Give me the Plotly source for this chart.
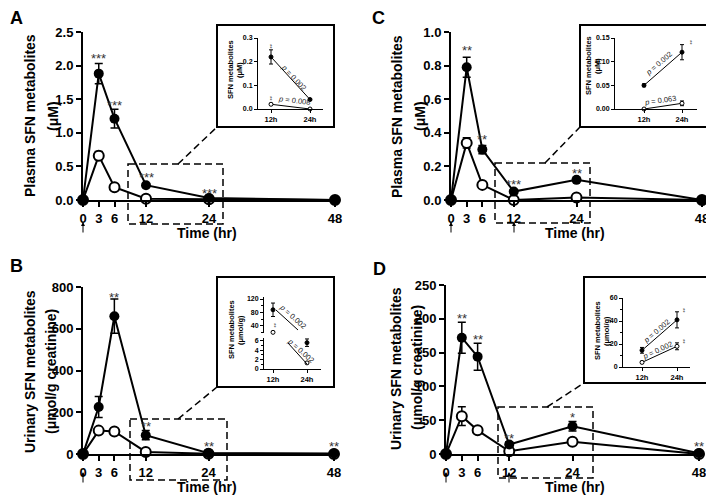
import plotly.graph_objects as go

W, H = 714, 500
OFF = 8  # the page body margin shifts the figure by 8 px
FONT = "Liberation Sans, Arial, sans-serif"

times = [0, 3, 6, 12, 24, 48]

# A - plasma SFN metabolites (uM)
a_filled = [0, 1.88, 1.21, 0.22, 0.03, 0.0]
a_filled_err = [0, 0.15, 0.14, 0.02, 0.01, 0]
a_open = [0, 0.66, 0.19, 0.02, 0.01, 0.0]
a_open_err = [0, 0.06, 0.02, 0.005, 0.003, 0]
a_star_x = [3, 6, 12, 24]
a_star_y = [2.10, 1.40, 0.34, 0.10]
a_stars = ["***", "***", "***", "***"]

# C - plasma SFN metabolites (uM)
c_filled = [0, 0.79, 0.30, 0.05, 0.12, 0.0]
c_filled_err = [0, 0.06, 0.025, 0.005, 0.006, 0]
c_open = [0, 0.34, 0.09, 0.0, 0.015, 0.0]
c_open_err = [0, 0.03, 0.008, 0, 0.003, 0]
c_star_x = [3, 6, 12, 24]
c_star_y = [0.89, 0.36, 0.09, 0.16]
c_stars = ["**", "**", "***", "**"]

# B - urinary SFN metabolites (umol/g creatinine)
b_filled = [0, 225, 660, 90, 4, 2]
b_filled_err = [0, 50, 82, 22, 1, 0.5]
b_open = [0, 112, 108, 10, 1, 0]
b_open_err = [0, 10, 8, 2, 0.3, 0]
b_star_x = [6, 12, 24, 48]
b_star_y = [750, 130, 35, 35]
b_stars = ["**", "**", "**", "**"]

# D - urinary SFN metabolites (umol/g creatinine)
d_filled = [0, 172, 144, 14, 41, 1]
d_filled_err = [0, 23, 20, 4, 7, 0.5]
d_open = [0, 56, 35, 4, 18, 0]
d_open_err = [0, 14, 3, 1, 2, 0]
d_star_x = [3, 6, 12, 24, 48]
d_star_y = [200, 170, 23, 54, 11]
d_stars = ["**", "**", "**", "*", "**"]

# insets: 12h vs 24h
inset_x = [12, 24]
inset_labels = ["12h", "24h"]
ia_filled = [0.22, 0.04]
ia_filled_err = [0.03, 0.004]
ia_open = [0.02, 0.0]
ia_open_err = [0.004, 0.002]
ia_p = ["0.002", "0.008"]

ic_filled = [0.05, 0.12]
ic_filled_err = [0.003, 0.016]
ic_open = [0.0, 0.012]
ic_open_err = [0.001, 0.005]
ic_p = ["0.002", "0.063"]

ib_filled = [88, 5.6]
ib_filled_err = [20, 0.8]
ib_open = [21, 1.3]
ib_open_err = [3, 0.2]
ib_p = ["0.002", "0.002"]

id_filled = [14.5, 41]
id_filled_err = [2.5, 7]
id_open = [4, 18]
id_open_err = [1, 3]
id_p = ["0.002", "0.002"]


def px(x):
    return (x - OFF) / W


def py(y):
    return 1 - (y - OFF) / H


def xdom(a, b):
    return [px(a), px(b)]


def ydom(top, bot):
    return [py(bot), py(top)]


def axis_style(size, lw, ticklen):
    return dict(showline=True, linecolor="black", linewidth=lw, ticks="outside",
                ticklen=ticklen, tickwidth=lw, tickcolor="black", showgrid=False,
                zeroline=False, fixedrange=True, automargin=False,
                tickfont=dict(family=FONT, size=size, color="black", weight="bold"))


def main_x(a0, p48, a1, anchor):
    s = (p48 - a0) / 48
    return dict(domain=xdom(a0, a1), range=[0, (a1 - a0) / s], anchor=anchor,
                tickvals=times, **axis_style(13, 2, 5))


def main_y(top, bot, ymax, ticks, fmt, anchor):
    return dict(domain=ydom(top, bot), range=[0, ymax], anchor=anchor,
                tickvals=ticks, tickformat=fmt, **axis_style(13, 2, 5))


def small_x(a0, p12, p24, a1, anchor):
    s = (p24 - p12) / 12
    return dict(domain=xdom(a0, a1), range=[12 - (p12 - a0) / s, 24 + (a1 - p24) / s],
                anchor=anchor, tickvals=inset_x, ticktext=inset_labels,
                **axis_style(7.5, 1, 3))


def small_y(top, bot, rng, ticks, fmt, anchor, minor=None):
    d = dict(domain=ydom(top, bot), range=rng, anchor=anchor, tickvals=ticks,
             tickformat=fmt, **axis_style(7, 1, 3))
    if minor:
        d["minor"] = dict(dtick=minor, ticks="outside", ticklen=2, tickwidth=1,
                          tickcolor="black")
    return d


fig = go.Figure()


def main_panel(xa, ya, filled, ferr, opn, oerr, sx, sy, st):
    fig.add_trace(go.Scatter(
        x=times, y=opn, mode="lines+markers", xaxis=xa, yaxis=ya, cliponaxis=False,
        error_y=dict(type="data", array=oerr, color="black", thickness=1.5, width=4),
        line=dict(color="black", width=2),
        marker=dict(symbol="circle", size=10, color="white", line=dict(color="black", width=2))))
    fig.add_trace(go.Scatter(
        x=times, y=filled, mode="lines+markers", xaxis=xa, yaxis=ya, cliponaxis=False,
        error_y=dict(type="data", array=ferr, color="black", thickness=1.5, width=4),
        line=dict(color="black", width=2),
        marker=dict(symbol="circle", size=10, color="black")))
    for x, y, t in zip(sx, sy, st):
        fig.add_annotation(x=x, y=y, xref=xa, yref=ya, text=t, showarrow=False,
                           xanchor="center", yanchor="middle",
                           font=dict(family=FONT, size=13, color="#333"))


def inset_trace(xa, ya, xs, ys, errs, filled, lines=True):
    fig.add_trace(go.Scatter(
        x=xs, y=ys, mode="lines+markers" if lines else "markers", xaxis=xa, yaxis=ya,
        cliponaxis=False,
        error_y=dict(type="data", array=errs, color="black", thickness=1, width=2),
        line=dict(color="black", width=1),
        marker=dict(symbol="circle", size=4, color="black" if filled else "white",
                    line=dict(color="black", width=1))))


main_panel("x", "y", a_filled, a_filled_err, a_open, a_open_err, a_star_x, a_star_y, a_stars)
main_panel("x2", "y2", c_filled, c_filled_err, c_open, c_open_err, c_star_x, c_star_y, c_stars)
main_panel("x3", "y3", b_filled, b_filled_err, b_open, b_open_err, b_star_x, b_star_y, b_stars)
main_panel("x4", "y4", d_filled, d_filled_err, d_open, d_open_err, d_star_x, d_star_y, d_stars)

inset_trace("x5", "y5", inset_x, ia_open, ia_open_err, False)
inset_trace("x5", "y5", inset_x, ia_filled, ia_filled_err, True)
inset_trace("x6", "y6", inset_x, ic_open, ic_open_err, False)
inset_trace("x6", "y6", inset_x, ic_filled, ic_filled_err, True)
# broken axis in B inset: 12h on the upper part, 24h on the lower part
inset_trace("x7", "y7", inset_x[:1], ib_filled[:1], ib_filled_err[:1], True, False)
inset_trace("x7", "y7", inset_x[:1], ib_open[:1], ib_open_err[:1], False, False)
inset_trace("x7", "y9", inset_x[1:], ib_filled[1:], ib_filled_err[1:], True, False)
inset_trace("x7", "y9", inset_x[1:], ib_open[1:], ib_open_err[1:], False, False)
inset_trace("x8", "y8", inset_x, id_open, id_open_err, False)
inset_trace("x8", "y8", inset_x, id_filled, id_filled_err, True)

fig.update_layout(
    width=W, height=H, margin=dict(l=0, r=0, t=0, b=0, autoexpand=False), showlegend=False,
    paper_bgcolor="white", plot_bgcolor="rgba(0,0,0,0)",
    font=dict(family=FONT, color="black"),
    xaxis=main_x(83, 335, 338, "y"),
    yaxis=main_y(32, 200, 2.5, [0, 0.5, 1.0, 1.5, 2.0, 2.5], ".1f", "x"),
    xaxis2=main_x(451, 702, 705, "y2"),
    yaxis2=main_y(32, 200, 1.0, [0, 0.2, 0.4, 0.6, 0.8, 1.0], ".1f", "x2"),
    xaxis3=main_x(83, 334, 337, "y3"),
    yaxis3=main_y(287, 454, 800, [0, 200, 400, 600, 800], "d", "x3"),
    xaxis4=main_x(446, 699, 702, "y4"),
    yaxis4=main_y(285, 454, 250, [0, 50, 100, 150, 200, 250], "d", "x4"),
    xaxis5=small_x(258, 271, 310, 323, "y5"),
    yaxis5=small_y(38, 109, [0, 0.3], [0, 0.1, 0.2, 0.3], ".1f", "x5"),
    xaxis6=small_x(615, 644, 682, 697, "y6"),
    yaxis6=small_y(38, 109, [0, 0.15], [0, 0.05, 0.10, 0.15], ".2f", "x6"),
    xaxis7=small_x(264, 273, 307, 321, "y9"),
    yaxis7=small_y(297, 333, [19, 126], [40, 80, 120], "d", "x7", 20),
    yaxis9=small_y(338, 369, [0, 6.6], [0, 2, 4, 6], "d", "x7", 1),
    xaxis8=small_x(623, 642, 677, 690, "y8"),
    yaxis8=small_y(298, 367, [0, 60], [0, 20, 40, 60], "d", "x8", 10),
)

# inset frames, dashed zoom boxes and connectors (pixel positions)
frames = [(217, 25, 334, 127), (580, 25, 710, 127), (217, 277, 334, 387), (584, 277, 710, 383)]
zooms = [(128, 164, 223, 224), (495, 163, 590, 223), (130, 419, 227, 480), (498, 407, 593, 478)]
links = [(178, 164, 217, 127), (545, 163, 580, 127), (178, 419, 217, 387), (547, 407, 584, 383)]
for x0, y0, x1, y1 in frames:
    fig.add_shape(type="rect", xref="paper", yref="paper", x0=px(x0), x1=px(x1),
                  y0=py(y0), y1=py(y1), line=dict(color="black", width=2))
for x0, y0, x1, y1 in zooms:
    fig.add_shape(type="rect", xref="paper", yref="paper", x0=px(x0), x1=px(x1),
                  y0=py(y0), y1=py(y1), line=dict(color="black", width=1.5, dash="7px,4px"))
for x0, y0, x1, y1 in links:
    fig.add_shape(type="line", xref="paper", yref="paper", x0=px(x0), x1=px(x1),
                  y0=py(y0), y1=py(y1), line=dict(color="black", width=1.5, dash="7px,4px"))
# p-value guide lines of the broken-axis inset
for x0, y0, x1, y1 in [(276, 310, 298, 330), (288, 343, 307, 364)]:
    fig.add_shape(type="line", xref="paper", yref="paper", x0=px(x0), x1=px(x1),
                  y0=py(y0), y1=py(y1), line=dict(color="black", width=1))


def text(x, y, t, size, angle=0, color="black", bold=True):
    fig.add_annotation(x=px(x), y=py(y), xref="paper", yref="paper", text=t,
                       showarrow=False, textangle=angle, xanchor="center", yanchor="middle",
                       font=dict(family=FONT, size=size, color=color,
                                 weight="bold" if bold else "normal"))


# panel letters
for x, y, t in [(16, 18, "A"), (378, 18, "C"), (16, 266, "B"), (379, 269, "D")]:
    text(x, y, t, 18)

# axis titles
text(30, 116, "Plasma SFN metabolites", 14, -90)
text(53, 116, "(μM)", 14, -90)
text(397, 116, "Plasma SFN metabolites", 14, -90)
text(420, 116, "(μM)", 14, -90)
text(30, 372, "Urinary SFN metabolites", 14, -90)
text(51, 372, "(μmol/g creatinine)", 14, -90)
text(396, 368, "Urinary SFN metabolites", 14, -90)
text(417, 368, "(μmol/g creatinine)", 14, -90)
for x, y in [(207, 233), (575, 233), (207, 487), (575, 487)]:
    text(x, y, "Time (hr)", 14)

# dosing arrows under the time axis
for x, y in [(83, 222), (451, 222), (514, 222), (83, 472), (446, 472), (509, 472)]:
    fig.add_annotation(x=px(x), y=py(y), xref="paper", yref="paper", text="",
                       showarrow=True, ax=0, ay=12, arrowhead=2, arrowsize=0.8,
                       arrowwidth=1, arrowcolor="black")

# inset axis titles
for x, y, t1, t2 in [(230, 70, "SFN metabolites", "(μM)"), (589, 66, "SFN metabolites", "(μM)"),
                     (231, 330, "SFN metabolites", "(μmol/g)"), (597, 331, "SFN metabolites", "(μmol/g)")]:
    text(x, y, t1, 7.5, -90)
    text(x + 9, y, t2, 7.5, -90)

# p-values in insets
pv = [(294, 77, 47, ia_p[0]), (294, 101, 7, ia_p[1]),
      (659, 64, -41, ic_p[0]), (660, 101, -8, ic_p[1]),
      (293, 316, 42, ib_p[0]), (301, 350, 42, ib_p[1]),
      (656, 331, -41, id_p[0]), (657, 350, -25, id_p[1])]
for x, y, a, p in pv:
    text(x, y, "<i>p</i> = " + p, 7.5, a, color="#222", bold=False)

# significance marks in insets
for x, y in [(270, 46), (270, 98), (690, 42), (683, 310), (683, 341), (274, 325)]:
    text(x, y, "**", 6, 90, color="#444", bold=False)

fig.write_html("out.html")
